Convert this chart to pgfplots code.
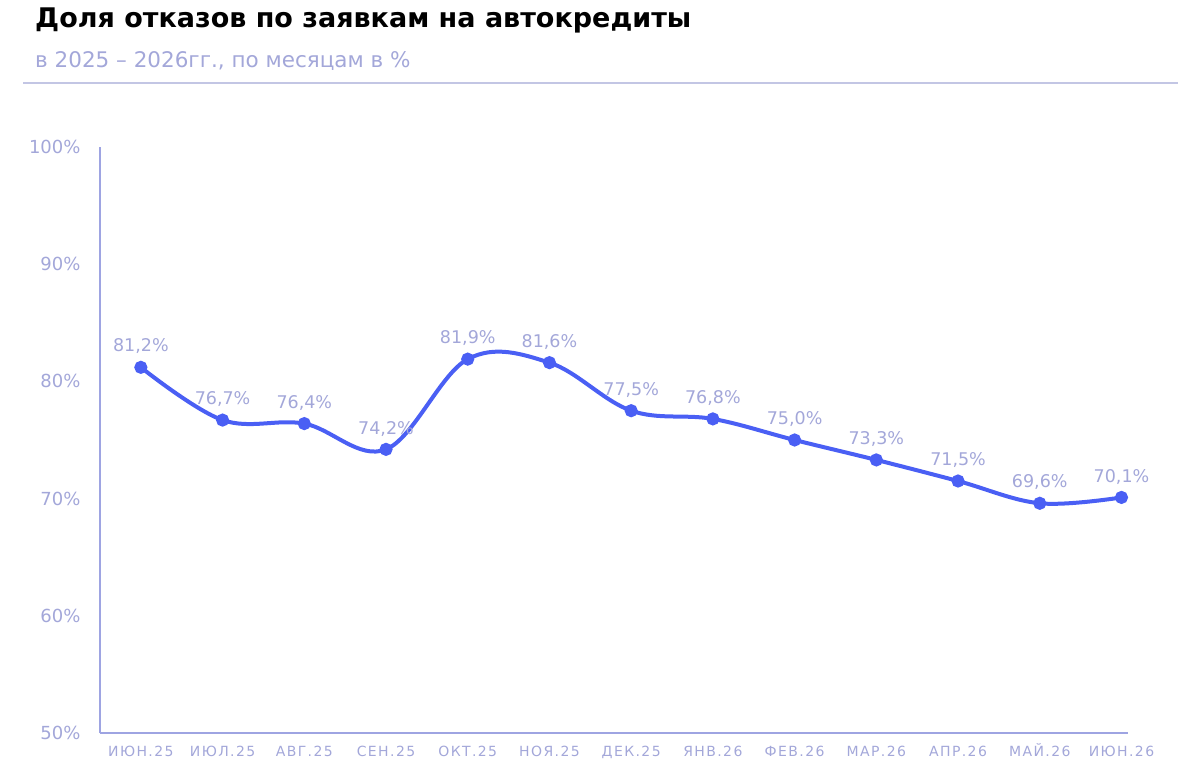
\documentclass[border=0pt]{standalone}
\usepackage{pgfplots}
\pgfplotsset{compat=1.18}
\usepackage{fontspec}
\setmainfont{DejaVu Sans}
\newfontfamily\xfont[LetterSpace=10]{DejaVu Sans}
\definecolor{linec}{HTML}{4A5FF4}
\definecolor{lav}{HTML}{A3A7D9}
\definecolor{axc}{HTML}{9EA4E2}
\definecolor{rule}{HTML}{C3C6E4}
\begin{document}
\begin{tikzpicture}
\path[use as bounding box] (0,0) rectangle (1200pt,780pt);
\node[anchor=base west, inner sep=0pt, font=\fontsize{27}{30}\selectfont\bfseries] at (35pt,752pt) {Доля отказов по заявкам на автокредиты};
\node[anchor=base west, inner sep=0pt, text=lav, font=\fontsize{21.5}{24}\selectfont] at (35pt,712pt) {в 2025 – 2026гг., по месяцам в \%};
\draw[rule, line width=2pt] (23pt,697pt) -- (1178pt,697pt);
\begin{axis}[
  at={(100pt,47pt)}, anchor=south west,
  scale only axis, width=1028pt, height=586pt,
  xmin=-0.5, xmax=12.08, ymin=50, ymax=100,
  axis lines=left, axis line style={axc, line width=1.3pt, -},
  xtick={0,...,12},
  xticklabels={ИЮН.25,ИЮЛ.25,АВГ.25,СЕН.25,ОКТ.25,НОЯ.25,ДЕК.25,ЯНВ.26,ФЕВ.26,МАР.26,АПР.26,МАЙ.26,ИЮН.26},
  ytick={50,60,...,100},
  yticklabel={\pgfmathprintnumber{\tick}\%},
  major tick length=0pt,
  tick label style={text=lav},
  x tick label style={font=\xfont\fontsize{14}{16}\selectfont, text height=10.5pt, text depth=2pt, yshift=-9pt},
  y tick label style={font=\fontsize{18}{20}\selectfont, xshift=-16pt},
  /pgf/number format/assume math mode=true,
  nodes near coords={\pgfmathprintnumber[fixed,fixed zerofill,precision=1,use comma]{\pgfplotspointmeta}\%},
  nodes near coords style={text=lav, font=\fontsize{17.5}{20}\selectfont, yshift=8pt},
  clip=false,
]
\addplot[linec, line width=4pt, smooth, tension=0.6, mark=*, mark size=4.5pt, mark options={fill=linec, draw=none}] coordinates {
(0,81.2) (1,76.7) (2,76.4) (3,74.2) (4,81.9) (5,81.6) (6,77.5) (7,76.8) (8,75.0) (9,73.3) (10,71.5) (11,69.6) (12,70.1)};
\end{axis}
\end{tikzpicture}
\end{document}
